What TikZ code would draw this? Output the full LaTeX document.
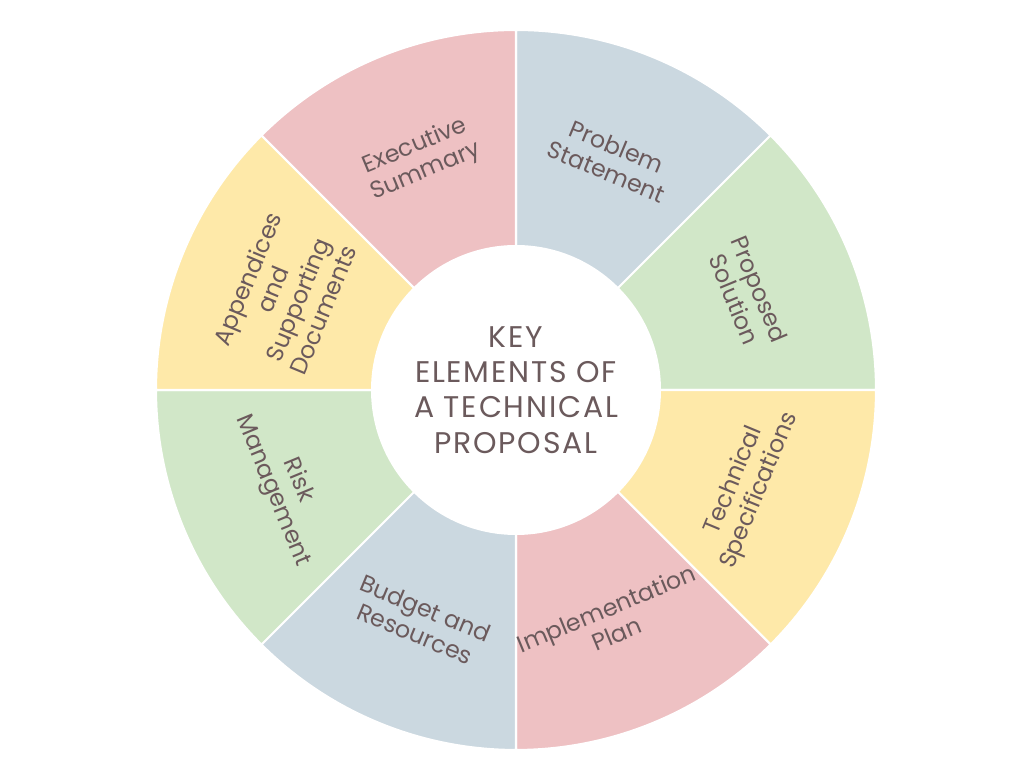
\documentclass[tikz,border=0pt]{standalone}
\usepackage{fontspec}
\setmainfont{Poppins}
\usetikzlibrary{positioning}
\usetikzlibrary{calc}
\definecolor{ink}{HTML}{6B5A5C}
\definecolor{cblue}{HTML}{CBD8E0}
\definecolor{cgreen}{HTML}{D1E7C8}
\definecolor{cyellow}{HTML}{FEE9A9}
\definecolor{cpink}{HTML}{EEC1C3}
\begin{document}
\begin{tikzpicture}[sector/.style={draw=white,line width=1.2pt},
				label/.style={text=ink,align=center,inner sep=1pt,font=\fontsize{13.5}{15.5}\selectfont}]
				\useasboundingbox (0,0) rectangle (20.48,15.36);
				\coordinate (c) at (10.32,7.56);
				
				% sectors: start angle / colour
				\foreach \a/\col in {45/cblue,0/cgreen,-45/cyellow,-90/cpink,-135/cblue,180/cgreen,135/cyellow,90/cpink}
				\fill[\col,sector] (c) -- ++(\a:7.2) arc[start angle=\a,delta angle=45,radius=7.2] -- cycle;
				\fill[white] (c) circle (2.9);
				
				\node[label,rotate=-22.5]  (problem)  at ($(c)+(67.5:5)$)   {Problem\\Statement};
				\node[label,rotate=-67.5]  (solution) at ($(c)+(22.5:5)$)   {Proposed\\Solution};
				\node[label,rotate=67.5]   (specs)    at ($(c)+(-22.5:5)$)  {Technical\\Specifications};
				\node[label,rotate=22.5]   (plan)     at ($(c)+(-67.5:5)$)  {Implementation\\Plan};
				\node[label,rotate=-22.5]  (budget)   at ($(c)+(-112.5:5)$) {Budget and\\Resources};
				\node[label,rotate=-67.5]  (risk)     at ($(c)+(-157.5:5)$) {Risk\\Management};
				\node[label,rotate=67.5]   (append)   at ($(c)+(157.5:5)$)  {Appendices\\and\\Supporting\\Documents};
				\node[label,rotate=22.5]   (summary)  at ($(c)+(112.5:5)$)  {Executive\\Summary};
				\node[label,font=\addfontfeatures{LetterSpace=6}\fontsize{17}{20}\selectfont] (title) at (c) {KEY\\ELEMENTS OF\\A TECHNICAL\\PROPOSAL};
\end{tikzpicture}
\end{document}
